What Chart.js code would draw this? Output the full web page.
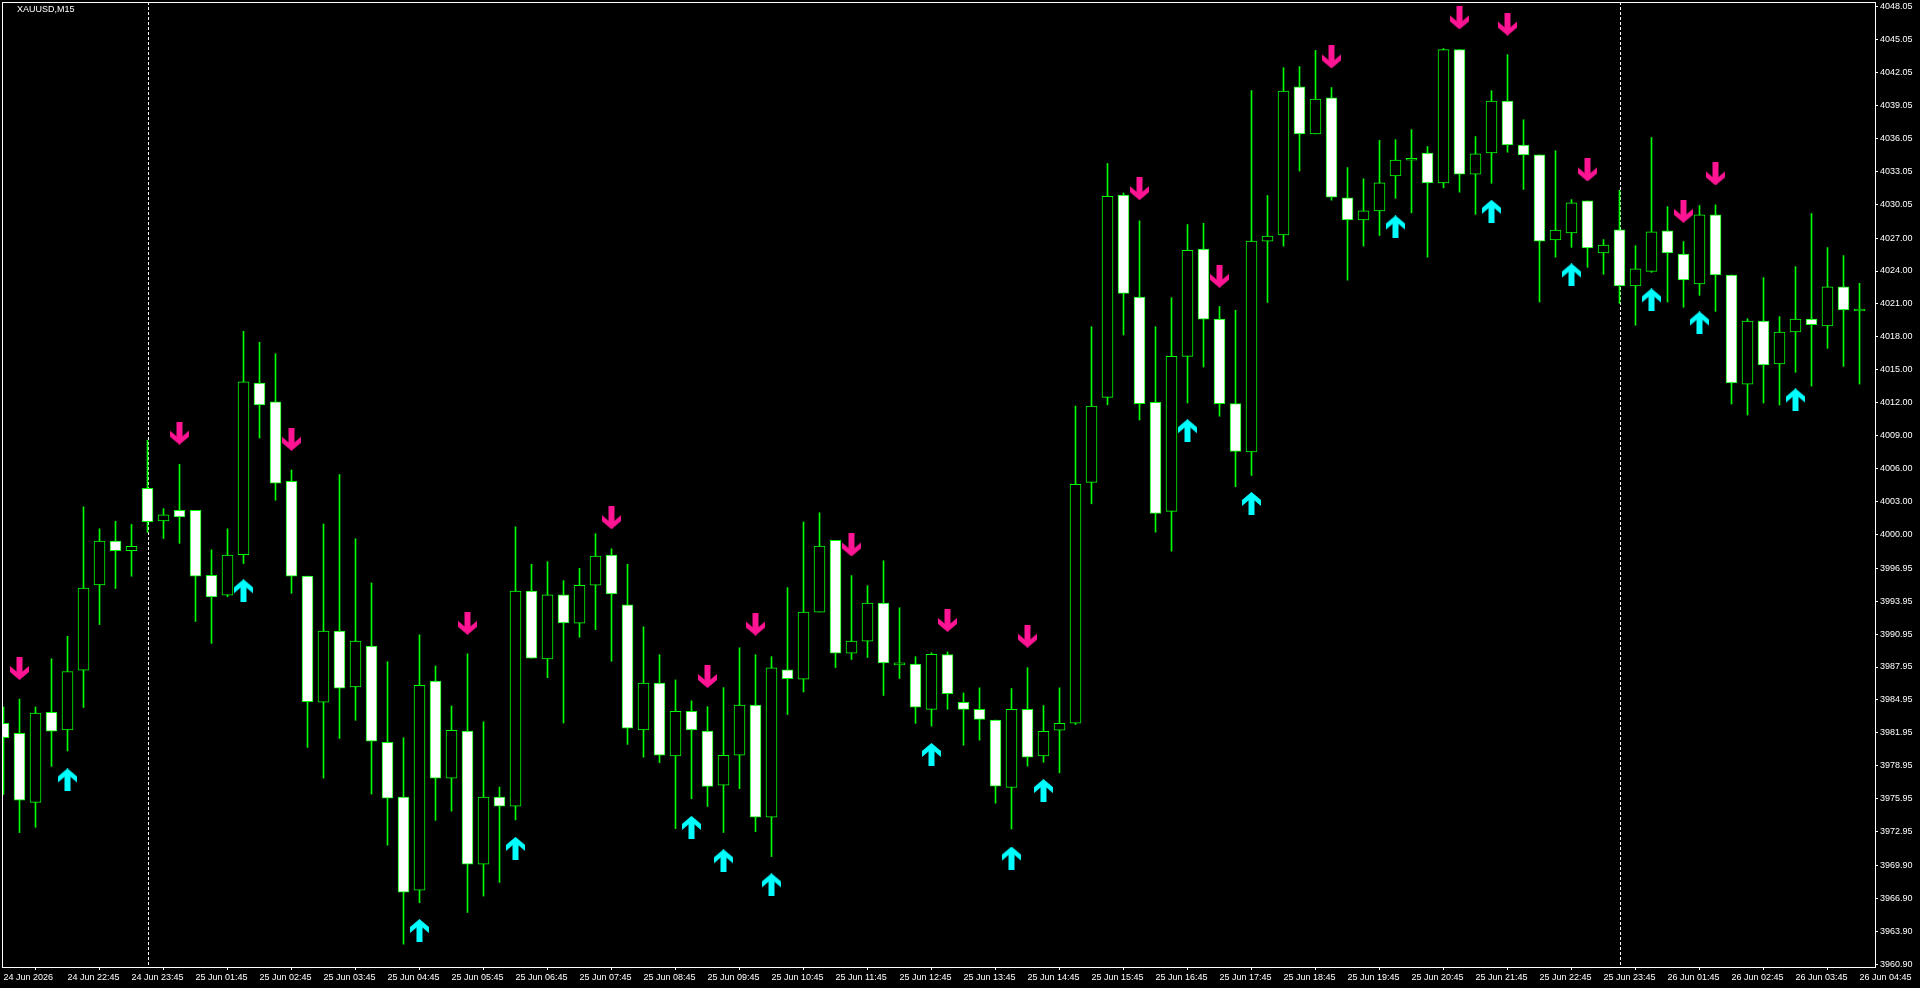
<!DOCTYPE html>
<html>
<head>
<meta charset="utf-8">
<title>XAUUSD,M15</title>
<script src="https://cdn.jsdelivr.net/npm/chart.js@4.4.1/dist/chart.umd.min.js"></script>
<style>
  html, body { margin: 0; padding: 0; background: #000; }
  #wrap { width: 1920px; height: 988px; }
</style>
</head>
<body>
<div id="wrap"><canvas id="lienzo" width="1920" height="988"></canvas></div>
<script>
// sessions of 15 minute bars: day, first hour, first minute, bar count
const sessions = [["24 Jun", 21, 45, 9], ["25 Jun", 1, 0, 92], ["26 Jun", 1, 0, 16]]
const times = []
for (const [day, h0, m0, n] of sessions) {
    let t = h0 * 60 + m0
    for (let k = 0; k < n; k++, t += 15) {
        times.push(day + " " + String(Math.floor(t / 60)).padStart(2, "0") + ":" + String(t % 60).padStart(2, "0"))
    }
}

const opens = [3982.83,3981.91,3975.63,3983.83,3982.23,3987.66,3995.42,3999.41,3998.53,4004.21,
    4001.25,4002.21,4002.21,3996.30,3994.50,3998.17,4013.80,4012.08,4004.85,3996.22,
    3984.76,3991.22,3986.14,3989.85,3981.09,3976.11,3967.63,3986.67,3977.84,3982.11,
    3969.99,3976.11,3975.29,3994.86,3988.68,3994.51,3991.93,3995.39,3998.15,3993.62,
    3982.22,3986.49,3979.85,3983.91,3982.11,3977.20,3979.92,3984.48,3974.27,3987.69,
    3986.84,3992.95,3999.49,3989.21,3990.30,3993.77,3988.15,3988.22,3984.09,3989.09,
    3984.73,3984.10,3983.12,3976.98,3984.10,3979.85,3982.20,3982.83,4004.76,4012.50,
    4030.92,4021.63,4012.05,4002.12,4016.23,4025.99,4019.62,4011.93,4007.52,4026.72,
    4027.28,4040.77,4036.48,4039.76,4030.66,4028.64,4029.48,4032.65,4034.08,4034.74,
    4032.02,4044.15,4032.82,4034.74,4039.48,4035.47,4034.57,4026.83,4027.47,4030.38,
    4025.64,4027.74,4022.64,4023.97,4027.65,4025.55,4022.82,4029.11,4023.64,4013.71,
    4019.45,4015.54,4018.45,4019.63,4019.00,4022.55,4020.36]
const highs = [3984.31,3985.03,3984.31,3988.70,3990.74,4002.53,4000.53,4001.21,4000.93,4008.60,
    4002.37,4006.40,4002.21,3998.61,4000.53,4018.51,4017.51,4016.47,4005.88,3996.22,
    4000.97,4005.46,3999.63,3995.60,3988.43,3981.51,3990.87,3988.04,3984.40,3989.14,
    3982.96,3977.02,4000.72,3997.30,3997.54,3995.81,3996.94,4000.09,3998.71,3997.30,
    3991.61,3989.07,3986.77,3984.87,3984.34,3986.07,3989.70,3989.07,3988.89,3995.18,
    4001.15,4001.99,3999.49,3996.27,3995.35,3997.62,3993.34,3988.89,3989.24,3989.32,
    3985.59,3986.05,3983.12,3985.99,3987.89,3984.44,3986.05,4011.70,4018.93,4033.79,
    4031.10,4028.57,4018.93,4021.57,4028.23,4028.34,4020.77,4020.42,4040.42,4030.87,
    4042.51,4042.61,4044.08,4040.70,4033.41,4032.40,4035.89,4035.96,4036.87,4035.33,
    4044.25,4044.15,4036.24,4040.42,4043.70,4037.77,4034.57,4034.95,4030.50,4030.38,
    4026.86,4031.35,4026.31,4036.15,4029.86,4026.68,4029.96,4030.02,4023.64,4019.66,
    4023.40,4019.85,4024.40,4029.23,4026.13,4025.40,4022.88]
const lows = [3976.35,3972.88,3973.36,3978.91,3980.31,3984.27,3991.82,3995.10,3996.22,4000.21,
    3999.65,3999.21,3992.10,3990.10,3994.34,3997.37,4008.80,4003.13,3994.66,3980.63,
    3977.84,3981.44,3983.10,3976.39,3971.73,3962.72,3966.50,3973.99,3974.83,3965.62,
    3967.10,3968.34,3974.02,3988.75,3986.98,3982.85,3990.66,3991.36,3988.47,3980.91,
    3979.74,3979.25,3973.24,3975.96,3975.26,3972.89,3976.88,3972.96,3970.70,3983.63,
    3985.68,3992.95,3987.90,3988.64,3988.82,3985.36,3986.91,3982.82,3982.57,3984.10,
    3980.83,3981.29,3975.55,3973.20,3978.93,3979.28,3978.31,3982.72,4002.81,4011.82,
    4018.18,4010.44,4000.23,3998.50,4011.99,4015.26,4010.78,4004.36,4005.39,4021.14,
    4026.27,4033.10,4036.48,4030.45,4023.17,4026.27,4027.24,4030.62,4029.30,4025.26,
    4031.57,4031.18,4029.16,4031.99,4034.81,4031.43,4021.18,4025.26,4026.16,4024.34,
    4023.70,4021.06,4019.06,4023.88,4021.18,4020.70,4021.79,4020.33,4011.89,4010.89,
    4011.98,4011.80,4014.78,4013.53,4016.96,4015.32,4013.71]
const closes = [3981.51,3975.83,3983.75,3982.11,3987.54,3995.14,3999.41,3998.53,3998.93,4001.17,
    4001.81,4001.61,3996.22,3994.34,3998.13,4013.92,4011.80,4004.69,3996.22,3984.79,
    3991.22,3986.03,3990.30,3981.19,3976.00,3967.45,3986.28,3977.84,3982.18,3969.99,
    3976.11,3975.29,3994.86,3988.75,3994.51,3991.96,3995.39,3998.04,3994.61,3982.39,
    3986.49,3979.92,3983.91,3982.22,3977.09,3979.92,3984.48,3974.27,3987.87,3986.88,
    3992.95,3998.96,3989.21,3990.30,3993.77,3988.33,3988.15,3984.30,3989.10,3985.53,
    3984.10,3983.18,3977.10,3984.10,3979.74,3982.09,3982.83,4004.59,4011.70,4030.81,
    4021.97,4011.93,4001.94,4016.23,4025.88,4019.62,4011.93,4007.57,4026.72,4027.17,
    4040.39,4036.48,4039.65,4030.73,4028.64,4029.48,4032.02,4034.11,4034.08,4032.02,
    4044.15,4032.82,4034.67,4039.48,4035.47,4034.57,4026.72,4027.73,4030.20,4026.10,
    4026.37,4022.64,4024.19,4027.56,4025.64,4023.19,4029.11,4023.64,4013.81,4019.45,
    4015.45,4018.45,4019.63,4019.12,4022.55,4020.45,4020.36]

// signal arrows: bar index and price at the arrow centre
const sellIdx = [1, 11, 18, 29, 38, 44, 47, 53, 59, 64, 71, 76, 83, 91, 94, 99, 105, 107]
const sellPrice = [3987.82, 4009.24, 4008.68, 3991.93, 4001.54, 3987.09, 3991.86, 3999.06, 3992.19,
    3990.76, 4031.50, 4023.52, 4043.49, 4047.04, 4046.48, 4033.20, 4029.44, 4032.84]
const buyIdx = [4, 15, 26, 32, 43, 45, 48, 58, 63, 65, 74, 78, 87, 93, 98, 103, 106, 112]
const buyPrice = [3977.67, 3994.89, 3963.96, 3971.44, 3973.35, 3970.31, 3968.12, 3979.99, 3970.56,
    3976.70, 4009.46, 4002.84, 4028.01, 4029.44, 4023.64, 4021.37, 4019.27, 4012.26]

// day separators (first bar of a new day)
const sepIdx = [9, 101]

const xTickIdx = [0, 4, 8, 12, 16, 20, 24, 28, 32, 36, 40, 44, 48, 52, 56, 60, 64, 68, 72, 76,
    80, 84, 88, 92, 96, 100, 104, 108, 112, 116]
const xTickLabels = ["24 Jun 2026", "24 Jun 22:45", "24 Jun 23:45", "25 Jun 01:45", "25 Jun 02:45",
    "25 Jun 03:45", "25 Jun 04:45", "25 Jun 05:45", "25 Jun 06:45", "25 Jun 07:45", "25 Jun 08:45",
    "25 Jun 09:45", "25 Jun 10:45", "25 Jun 11:45", "25 Jun 12:45", "25 Jun 13:45", "25 Jun 14:45",
    "25 Jun 15:45", "25 Jun 16:45", "25 Jun 17:45", "25 Jun 18:45", "25 Jun 19:45", "25 Jun 20:45",
    "25 Jun 21:45", "25 Jun 22:45", "25 Jun 23:45", "26 Jun 01:45", "26 Jun 02:45", "26 Jun 03:45",
    "26 Jun 04:45"]
const yTicks = [4048.05, 4045.05, 4042.05, 4039.05, 4036.05, 4033.05, 4030.05, 4027.00, 4024.00,
    4021.00, 4018.00, 4015.00, 4012.00, 4009.00, 4006.00, 4003.00, 4000.00, 3996.95, 3993.95,
    3990.95, 3987.95, 3984.95, 3981.95, 3978.95, 3975.95, 3972.95, 3969.90, 3966.90, 3963.90, 3960.90]

const LIME = "#00ff00"
const tickFont = {family: "'Liberation Sans', Arial, sans-serif", size: 9}

function flecha(color, down) {
    const c = document.createElement("canvas")
    c.width = 19
    c.height = 23
    const g = c.getContext("2d")
    if (!down) { g.translate(0, 23); g.scale(1, -1) }
    g.fillStyle = color
    g.fillRect(6.5, 0, 6, 17)
    g.beginPath()
    g.moveTo(0, 9); g.lineTo(9.5, 17); g.lineTo(19, 9)
    g.lineTo(19, 15); g.lineTo(9.5, 23); g.lineTo(0, 15)
    g.closePath()
    g.fill()
    return c
}

const wicks = times.map((t, i) => ({x: i, y: [lows[i], highs[i]]}))
const bodies = times.map((t, i) => ({x: i, y: [opens[i], closes[i]]}))
const bodyFill = times.map((t, i) => closes[i] < opens[i] ? "#ffffff" : "#000000")

// no extra room for half labels at the ends of the axes
const sinPad = s => { s.paddingTop = 0; s.paddingBottom = 0; s.paddingLeft = 0; s.paddingRight = 0 }

const fondo = {
    id: "fondo",
    beforeDraw(chart) {
        const ctx = chart.ctx
        ctx.save()
        ctx.fillStyle = "#000"
        ctx.fillRect(0, 0, chart.width, chart.height)
        ctx.restore()
    },
    beforeDatasetsDraw(chart) {
        const ctx = chart.ctx
        const a = chart.chartArea
        ctx.save()
        ctx.strokeStyle = "#ffffff"
        ctx.lineWidth = 1
        ctx.setLineDash([3, 2])
        for (const i of sepIdx) {
            const x = Math.round(chart.scales.x.getPixelForValue(i)) + 0.5
            ctx.beginPath()
            ctx.moveTo(x, a.top)
            ctx.lineTo(x, a.bottom)
            ctx.stroke()
        }
        ctx.restore()
    },
    afterDraw(chart) {
        const ctx = chart.ctx
        const a = chart.chartArea
        ctx.save()
        ctx.strokeStyle = "#ffffff"
        ctx.lineWidth = 1
        ctx.strokeRect(a.left + 0.5, a.top + 0.5, a.right - a.left, a.bottom - a.top)
        ctx.fillStyle = "#ffffff"
        ctx.font = "9px 'Liberation Sans', Arial, sans-serif"
        ctx.textBaseline = "middle"
        ctx.fillText("XAUUSD,M15", 17, 10)
        ctx.restore()
    }
}

new Chart(document.getElementById("lienzo"), {
    type: "bar",
    data: {
        datasets: [
            {
                type: "line", data: sellIdx.map((v, k) => ({x: v, y: sellPrice[k]})),
                showLine: false, pointStyle: flecha("#ff1493", true), pointRadius: 10, order: -1
            },
            {
                type: "line", data: buyIdx.map((v, k) => ({x: v, y: buyPrice[k]})),
                showLine: false, pointStyle: flecha("#00ffff", false), pointRadius: 10, order: -1
            },
            {
                data: bodies, backgroundColor: bodyFill, borderColor: LIME, borderWidth: 1,
                borderSkipped: false, barThickness: 11, minBarLength: 2, grouped: false, order: 0
            },
            {
                data: wicks, backgroundColor: LIME, borderWidth: 0, barThickness: 1,
                grouped: false, order: 1
            }
        ]
    },
    options: {
        responsive: false,
        animation: false,
        devicePixelRatio: 1,
        layout: {autoPadding: false, padding: {left: 2, top: 2, right: 0, bottom: 0}},
        plugins: {legend: {display: false}, tooltip: {enabled: false}},
        scales: {
            x: {
                type: "linear",
                min: -0.09375,
                max: 116.96875,
                offset: false,
                afterFit: s => { s.height = 21; sinPad(s) },
                afterBuildTicks: s => { s.ticks = xTickIdx.map(v => ({value: v})) },
                border: {display: false},
                grid: {drawOnChartArea: false, drawTicks: true, tickLength: 3, color: "#ffffff", tickColor: "#ffffff"},
                ticks: {
                    color: "#ffffff", font: tickFont, align: "start", padding: 2,
                    autoSkip: false, maxRotation: 0,
                    callback: (v, i) => xTickLabels[i]
                }
            },
            y: {
                position: "right",
                min: 3960.64,
                max: 4048.49,
                afterFit: s => { s.width = 45; sinPad(s) },
                afterBuildTicks: s => { s.ticks = yTicks.map(v => ({value: v})) },
                border: {display: false},
                grid: {drawOnChartArea: false, drawTicks: true, tickLength: 3, color: "#ffffff", tickColor: "#ffffff"},
                ticks: {
                    color: "#ffffff", font: tickFont, padding: 2,
                    callback: v => Number(v).toFixed(2)
                }
            }
        }
    },
    plugins: [fondo]
})
</script>
</body>
</html>
